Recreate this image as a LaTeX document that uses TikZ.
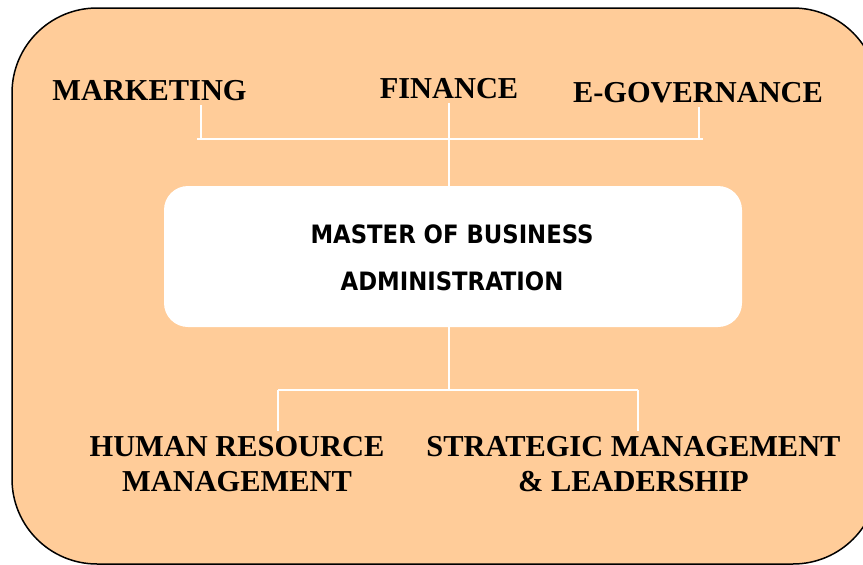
\documentclass[tikz,border=0pt]{standalone}
\usepackage{fontspec}
\setmainfont{Liberation Serif}
\newfontfamily\boxfont{DejaVu Sans Condensed}
\definecolor{peach}{HTML}{FFCC99}
\tikzset{
  lbl/.style={font=\bfseries\fontsize{30.4}{35}\selectfont, inner sep=0pt, anchor=base, align=center},
  conn/.style={draw=white, line width=1.8pt},
  mbabox/.style={fill=white, rounded corners=24pt, inner sep=0pt},
}
\begin{document}
\begin{tikzpicture}[x=1pt,y=-1pt]
\useasboundingbox (0,0) rectangle (863,565);
\begin{scope}
\clip (0,0) rectangle (863,565);
\draw[fill=peach, line width=1.5pt, rounded corners=85pt] (12,8) rectangle (878,564);
\end{scope}
% central box
\node[mbabox, minimum width=578pt, minimum height=141pt] (mba) at (453,256.5) {};
\node[font=\boxfont\bfseries\fontsize{25.3}{47}\selectfont, align=center, inner sep=0pt, anchor=base] (mbatext) at (452,290)
  {MASTER OF BUSINESS\\ADMINISTRATION};
% top labels
\node[lbl] (mkt) at (149.5,100) {MARKETING};
\node[lbl] (fin) at (449,98) {FINANCE};
\node[lbl] (egov) at (698,102) {E-GOVERNANCE};
% bottom labels
\node[lbl] (hrm) at (237,491) {HUMAN RESOURCE\\MANAGEMENT};
\node[lbl] (sml) at (633.5,491) {STRATEGIC MANAGEMENT\\\& LEADERSHIP};
% connector points
\coordinate (mktA) at (201,105);
\coordinate (mktB) at (201,139);
\coordinate (finA) at (449,103);
\coordinate (finB) at (449,139);
\coordinate (egA) at (699,107);
\coordinate (egB) at (699,139);
\coordinate (hL) at (197,139);
\coordinate (hR) at (703,139);
\coordinate (bMid) at (449,390);
\coordinate (bL) at (278,390);
\coordinate (bR) at (638,390);
\coordinate (hrA) at (278,431);
\coordinate (smA) at (638,431);
% top connectors
\draw[conn] (mktA) -- (mktB);
\draw[conn] (finA) -- (finB);
\draw[conn] (egA) -- (egB);
\draw[conn] (hL) -- (hR);
\draw[conn] (finB) -- (mba.north -| finB);
% bottom connectors
\draw[conn] (mba.south -| bMid) -- (bMid);
\draw[conn] (bL) -- (bR);
\draw[conn] (bL) -- (hrA);
\draw[conn] (bR) -- (smA);
\end{tikzpicture}
\end{document}
